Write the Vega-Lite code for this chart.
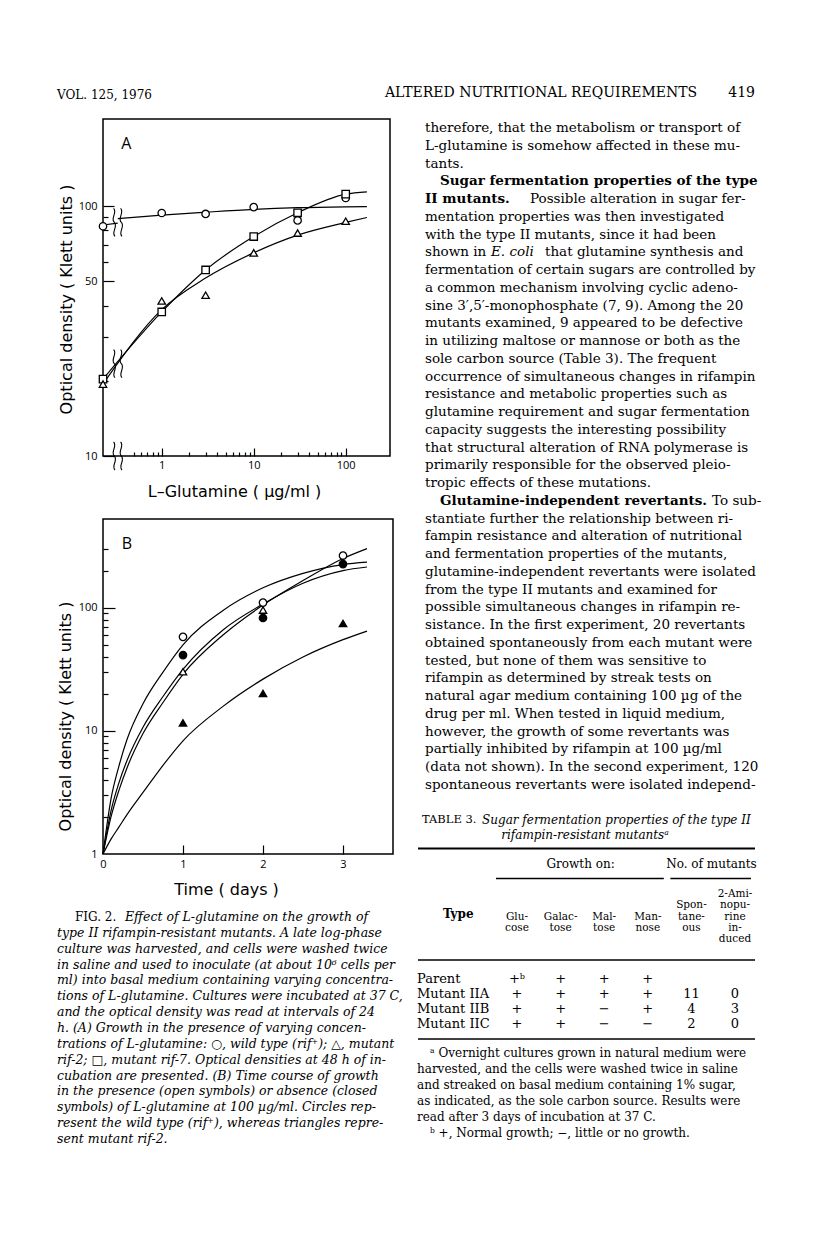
{
  "$schema": "https://vega.github.io/schema/vega-lite/v6.json",
  "background": "white",
  "padding": {"left": 56, "top": 86, "right": 10, "bottom": 10},
  "autosize": {"type": "pad"},
  "bounds": "flush",
  "columns": 2,
  "spacing": {"row": 63, "column": 32},
  "config": {
    "view": {"stroke": null},
    "axis": {"grid": false, "labelFont": "Open Sans", "labelFontSize": 11, "labelColor": "black", "titleFont": "DejaVu Sans", "titleFontSize": 16, "titleFontWeight": "normal", "titleColor": "black", "tickColor": "black", "tickWidth": 1.2, "domainColor": "black", "labelFlush": false, "labelOverlap": false},
    "title": {"color": "black"},
    "text": {"color": "black"}
  },
  "datasets": {
    "glutamine_points": [
      {"strain": "wild type (rif+)", "conc": 0.23, "od": 83},
      {"strain": "wild type (rif+)", "conc": 1, "od": 93.8},
      {"strain": "wild type (rif+)", "conc": 3, "od": 93},
      {"strain": "wild type (rif+)", "conc": 10, "od": 99},
      {"strain": "wild type (rif+)", "conc": 30, "od": 87.6},
      {"strain": "wild type (rif+)", "conc": 100, "od": 107.7},
      {"strain": "mutant rif-7", "conc": 0.23, "od": 20.3},
      {"strain": "mutant rif-7", "conc": 1, "od": 37.7},
      {"strain": "mutant rif-7", "conc": 3, "od": 55.5},
      {"strain": "mutant rif-7", "conc": 10, "od": 75.5},
      {"strain": "mutant rif-7", "conc": 30, "od": 94},
      {"strain": "mutant rif-7", "conc": 100, "od": 111.6},
      {"strain": "mutant rif-2", "conc": 0.23, "od": 19.4},
      {"strain": "mutant rif-2", "conc": 1, "od": 41.7},
      {"strain": "mutant rif-2", "conc": 3, "od": 44},
      {"strain": "mutant rif-2", "conc": 10, "od": 65},
      {"strain": "mutant rif-2", "conc": 30, "od": 78},
      {"strain": "mutant rif-2", "conc": 100, "od": 87}
    ],
    "glutamine_curves": [
      {"curve": "wild type, before break", "conc": 0.23, "od": 84},
      {"curve": "wild type, before break", "conc": 0.333, "od": 85.5},
      {"curve": "wild type", "conc": 0.333, "od": 89},
      {"curve": "wild type", "conc": 1, "od": 92},
      {"curve": "wild type", "conc": 3, "od": 94.5},
      {"curve": "wild type", "conc": 10, "od": 97},
      {"curve": "wild type", "conc": 30, "od": 98.5},
      {"curve": "wild type", "conc": 100, "od": 99.3},
      {"curve": "wild type", "conc": 170, "od": 99.5},
      {"curve": "mutant rif-7", "conc": 0.23, "od": 20.3},
      {"curve": "mutant rif-7", "conc": 1, "od": 37.7},
      {"curve": "mutant rif-7", "conc": 3, "od": 55.5},
      {"curve": "mutant rif-7", "conc": 10, "od": 75.5},
      {"curve": "mutant rif-7", "conc": 30, "od": 94},
      {"curve": "mutant rif-7", "conc": 100, "od": 111.6},
      {"curve": "mutant rif-7", "conc": 170, "od": 114},
      {"curve": "mutant rif-2", "conc": 0.23, "od": 19.4},
      {"curve": "mutant rif-2", "conc": 1, "od": 38.5},
      {"curve": "mutant rif-2", "conc": 3, "od": 51.5},
      {"curve": "mutant rif-2", "conc": 10, "od": 65},
      {"curve": "mutant rif-2", "conc": 30, "od": 76.5},
      {"curve": "mutant rif-2", "conc": 100, "od": 86},
      {"curve": "mutant rif-2", "conc": 170, "od": 90}
    ],
    "glutamine_breaks": [
      {"where": "wild type curve", "conc": 0.333, "od": 86},
      {"where": "mutant curves", "conc": 0.333, "od": 23.4},
      {"where": "x axis", "conc": 0.333, "od": 10}
    ],
    "time_points": [
      {"strain": "wild type (rif+)", "glutamine": "present", "t": 1, "od": 58},
      {"strain": "wild type (rif+)", "glutamine": "present", "t": 2, "od": 110},
      {"strain": "wild type (rif+)", "glutamine": "present", "t": 3, "od": 265},
      {"strain": "wild type (rif+)", "glutamine": "absent", "t": 1, "od": 41.2},
      {"strain": "wild type (rif+)", "glutamine": "absent", "t": 2, "od": 82.5},
      {"strain": "wild type (rif+)", "glutamine": "absent", "t": 3, "od": 226},
      {"strain": "mutant rif-2", "glutamine": "present", "t": 1, "od": 30.2},
      {"strain": "mutant rif-2", "glutamine": "present", "t": 2, "od": 95.7},
      {"strain": "mutant rif-2", "glutamine": "absent", "t": 1, "od": 11.6},
      {"strain": "mutant rif-2", "glutamine": "absent", "t": 2, "od": 20.1},
      {"strain": "mutant rif-2", "glutamine": "absent", "t": 3, "od": 74.5}
    ],
    "time_curves": [
      {"curve": "C1", "t": 0, "od": 1}, {"curve": "C1", "t": 0.1, "od": 2.8}, {"curve": "C1", "t": 0.2, "od": 5.2}, {"curve": "C1", "t": 0.3, "od": 8.5}, {"curve": "C1", "t": 0.5, "od": 16.6}, {"curve": "C1", "t": 0.75, "od": 30}, {"curve": "C1", "t": 1, "od": 50}, {"curve": "C1", "t": 1.5, "od": 95}, {"curve": "C1", "t": 2, "od": 145}, {"curve": "C1", "t": 2.5, "od": 190}, {"curve": "C1", "t": 3, "od": 224}, {"curve": "C1", "t": 3.3, "od": 234},
      {"curve": "C2", "t": 0, "od": 1}, {"curve": "C2", "t": 0.1, "od": 2.0}, {"curve": "C2", "t": 0.2, "od": 3.3}, {"curve": "C2", "t": 0.3, "od": 5.0}, {"curve": "C2", "t": 0.5, "od": 9.5}, {"curve": "C2", "t": 0.75, "od": 17}, {"curve": "C2", "t": 1, "od": 28.8}, {"curve": "C2", "t": 1.5, "od": 60}, {"curve": "C2", "t": 2, "od": 105}, {"curve": "C2", "t": 2.5, "od": 166}, {"curve": "C2", "t": 3, "od": 251}, {"curve": "C2", "t": 3.3, "od": 302},
      {"curve": "C3", "t": 0, "od": 1}, {"curve": "C3", "t": 0.1, "od": 2.24}, {"curve": "C3", "t": 0.2, "od": 3.8}, {"curve": "C3", "t": 0.3, "od": 5.75}, {"curve": "C3", "t": 0.5, "od": 10.7}, {"curve": "C3", "t": 0.75, "od": 19}, {"curve": "C3", "t": 1, "od": 31.6}, {"curve": "C3", "t": 1.5, "od": 66}, {"curve": "C3", "t": 2, "od": 107}, {"curve": "C3", "t": 2.5, "od": 158}, {"curve": "C3", "t": 3, "od": 200}, {"curve": "C3", "t": 3.3, "od": 214},
      {"curve": "C4", "t": 0, "od": 1}, {"curve": "C4", "t": 0.1, "od": 1.32}, {"curve": "C4", "t": 0.2, "od": 1.66}, {"curve": "C4", "t": 0.3, "od": 2.09}, {"curve": "C4", "t": 0.5, "od": 3.16}, {"curve": "C4", "t": 0.75, "od": 5.25}, {"curve": "C4", "t": 1, "od": 8.3}, {"curve": "C4", "t": 1.5, "od": 15.8}, {"curve": "C4", "t": 2, "od": 26.3}, {"curve": "C4", "t": 2.5, "od": 39.8}, {"curve": "C4", "t": 3, "od": 55}, {"curve": "C4", "t": 3.3, "od": 64.6}
    ],
    "caption": [
      {"line": 1, "part": "fig", "text": "FIG. 2."},
      {"line": 1, "part": "first", "text": "Effect of L-glutamine on the growth of"},
      {"line": 2, "part": "body", "text": "type II rifampin-resistant mutants. A late log-phase"},
      {"line": 3, "part": "body", "text": "culture was harvested, and cells were washed twice"},
      {"line": 4, "part": "body", "text": "in saline and used to inoculate (at about 10⁶ cells per"},
      {"line": 5, "part": "body", "text": "ml) into basal medium containing varying concentra-"},
      {"line": 6, "part": "body", "text": "tions of L-glutamine. Cultures were incubated at 37 C,"},
      {"line": 7, "part": "body", "text": "and the optical density was read at intervals of 24"},
      {"line": 8, "part": "body", "text": "h. (A) Growth in the presence of varying concen-"},
      {"line": 9, "part": "body", "text": "trations of L-glutamine: ○, wild type (rif⁺); △, mutant"},
      {"line": 10, "part": "body", "text": "rif-2; □, mutant rif-7. Optical densities at 48 h of in-"},
      {"line": 11, "part": "body", "text": "cubation are presented. (B) Time course of growth"},
      {"line": 12, "part": "body", "text": "in the presence (open symbols) or absence (closed"},
      {"line": 13, "part": "body", "text": "symbols) of L-glutamine at 100 µg/ml. Circles rep-"},
      {"line": 14, "part": "body", "text": "resent the wild type (rif⁺), whereas triangles repre-"},
      {"line": 15, "part": "body", "text": "sent mutant rif-2."}
    ],
    "body": [
      {"line": 1, "style": "r", "text": "therefore, that the metabolism or transport of"},
      {"line": 2, "style": "r", "text": "L-glutamine is somehow affected in these mu-"},
      {"line": 3, "style": "r", "text": "tants."},
      {"line": 4, "style": "bi", "text": "Sugar fermentation properties of the type"},
      {"line": 5, "style": "b", "text": "II mutants."},
      {"line": 5, "style": "r5", "text": "Possible alteration in sugar fer-"},
      {"line": 6, "style": "r", "text": "mentation properties was then investigated"},
      {"line": 7, "style": "r", "text": "with the type II mutants, since it had been"},
      {"line": 8, "style": "r", "text": "shown in"},
      {"line": 8, "style": "i8", "text": "E. coli"},
      {"line": 8, "style": "r8", "text": "that glutamine synthesis and"},
      {"line": 9, "style": "r", "text": "fermentation of certain sugars are controlled by"},
      {"line": 10, "style": "r", "text": "a common mechanism involving cyclic adeno-"},
      {"line": 11, "style": "r", "text": "sine 3′,5′-monophosphate (7, 9). Among the 20"},
      {"line": 12, "style": "r", "text": "mutants examined, 9 appeared to be defective"},
      {"line": 13, "style": "r", "text": "in utilizing maltose or mannose or both as the"},
      {"line": 14, "style": "r", "text": "sole carbon source (Table 3). The frequent"},
      {"line": 15, "style": "r", "text": "occurrence of simultaneous changes in rifampin"},
      {"line": 16, "style": "r", "text": "resistance and metabolic properties such as"},
      {"line": 17, "style": "r", "text": "glutamine requirement and sugar fermentation"},
      {"line": 18, "style": "r", "text": "capacity suggests the interesting possibility"},
      {"line": 19, "style": "r", "text": "that structural alteration of RNA polymerase is"},
      {"line": 20, "style": "r", "text": "primarily responsible for the observed pleio-"},
      {"line": 21, "style": "r", "text": "tropic effects of these mutations."},
      {"line": 22, "style": "bi", "text": "Glutamine-independent revertants."},
      {"line": 22, "style": "r22", "text": "To sub-"},
      {"line": 23, "style": "r", "text": "stantiate further the relationship between ri-"},
      {"line": 24, "style": "r", "text": "fampin resistance and alteration of nutritional"},
      {"line": 25, "style": "r", "text": "and fermentation properties of the mutants,"},
      {"line": 26, "style": "r", "text": "glutamine-independent revertants were isolated"},
      {"line": 27, "style": "r", "text": "from the type II mutants and examined for"},
      {"line": 28, "style": "r", "text": "possible simultaneous changes in rifampin re-"},
      {"line": 29, "style": "r", "text": "sistance. In the first experiment, 20 revertants"},
      {"line": 30, "style": "r", "text": "obtained spontaneously from each mutant were"},
      {"line": 31, "style": "r", "text": "tested, but none of them was sensitive to"},
      {"line": 32, "style": "r", "text": "rifampin as determined by streak tests on"},
      {"line": 33, "style": "r", "text": "natural agar medium containing 100 µg of the"},
      {"line": 34, "style": "r", "text": "drug per ml. When tested in liquid medium,"},
      {"line": 35, "style": "r", "text": "however, the growth of some revertants was"},
      {"line": 36, "style": "r", "text": "partially inhibited by rifampin at 100 µg/ml"},
      {"line": 37, "style": "r", "text": "(data not shown). In the second experiment, 120"},
      {"line": 38, "style": "r", "text": "spontaneous revertants were isolated independ-"}
    ],
    "table_title": [
      {"line": 1, "part": "label", "text": "TABLE 3."},
      {"line": 1, "part": "it1", "text": "Sugar fermentation properties of the type II"},
      {"line": 2, "part": "it2", "text": "rifampin-resistant mutantsᵃ"}
    ],
    "table_groups": [
      {"col": "Galactose", "text": "Growth on:"},
      {"col": "Spontaneous", "text": "No. of mutants"}
    ],
    "table_group_rules": [
      {"from": "Glucose", "to": "Mannose"},
      {"from": "Spontaneous", "to": "2-Aminopurine induced"}
    ],
    "table_heads": [
      {"col": "Glucose", "hline": 3, "text": "Glu-"}, {"col": "Glucose", "hline": 4, "text": "cose"},
      {"col": "Galactose", "hline": 3, "text": "Galac-"}, {"col": "Galactose", "hline": 4, "text": "tose"},
      {"col": "Maltose", "hline": 3, "text": "Mal-"}, {"col": "Maltose", "hline": 4, "text": "tose"},
      {"col": "Mannose", "hline": 3, "text": "Man-"}, {"col": "Mannose", "hline": 4, "text": "nose"},
      {"col": "Spontaneous", "hline": 2, "text": "Spon-"}, {"col": "Spontaneous", "hline": 3, "text": "tane-"}, {"col": "Spontaneous", "hline": 4, "text": "ous"},
      {"col": "2-Aminopurine induced", "hline": 1, "text": "2-Ami-"}, {"col": "2-Aminopurine induced", "hline": 2, "text": "nopu-"}, {"col": "2-Aminopurine induced", "hline": 3, "text": "rine"}, {"col": "2-Aminopurine induced", "hline": 4, "text": "in-"}, {"col": "2-Aminopurine induced", "hline": 5, "text": "duced"}
    ],
    "table_types": [
      {"type": "Parent"}, {"type": "Mutant IIA"}, {"type": "Mutant IIB"}, {"type": "Mutant IIC"}
    ],
    "table_cells": [
      {"type": "Parent", "col": "Glucose", "value": "+ᵇ"},
      {"type": "Parent", "col": "Galactose", "value": "+"},
      {"type": "Parent", "col": "Maltose", "value": "+"},
      {"type": "Parent", "col": "Mannose", "value": "+"},
      {"type": "Mutant IIA", "col": "Glucose", "value": "+"},
      {"type": "Mutant IIA", "col": "Galactose", "value": "+"},
      {"type": "Mutant IIA", "col": "Maltose", "value": "+"},
      {"type": "Mutant IIA", "col": "Mannose", "value": "+"},
      {"type": "Mutant IIA", "col": "Spontaneous", "value": "11"},
      {"type": "Mutant IIA", "col": "2-Aminopurine induced", "value": "0"},
      {"type": "Mutant IIB", "col": "Glucose", "value": "+"},
      {"type": "Mutant IIB", "col": "Galactose", "value": "+"},
      {"type": "Mutant IIB", "col": "Maltose", "value": "−"},
      {"type": "Mutant IIB", "col": "Mannose", "value": "+"},
      {"type": "Mutant IIB", "col": "Spontaneous", "value": "4"},
      {"type": "Mutant IIB", "col": "2-Aminopurine induced", "value": "3"},
      {"type": "Mutant IIC", "col": "Glucose", "value": "+"},
      {"type": "Mutant IIC", "col": "Galactose", "value": "+"},
      {"type": "Mutant IIC", "col": "Maltose", "value": "−"},
      {"type": "Mutant IIC", "col": "Mannose", "value": "−"},
      {"type": "Mutant IIC", "col": "Spontaneous", "value": "2"},
      {"type": "Mutant IIC", "col": "2-Aminopurine induced", "value": "0"}
    ],
    "table_notes": [
      {"nline": 1, "indent": "yes", "text": "ᵃ Overnight cultures grown in natural medium were"},
      {"nline": 2, "indent": "no", "text": "harvested, and the cells were washed twice in saline"},
      {"nline": 3, "indent": "no", "text": "and streaked on basal medium containing 1% sugar,"},
      {"nline": 4, "indent": "no", "text": "as indicated, as the sole carbon source. Results were"},
      {"nline": 5, "indent": "no", "text": "read after 3 days of incubation at 37 C."},
      {"nline": 6, "indent": "yes", "text": "ᵇ +, Normal growth; −, little or no growth."}
    ]
  },
  "concat": [
    {
      "width": 287,
      "height": 337,
      "view": {"stroke": "black", "strokeWidth": 1.5},
      "title": {"text": "VOL. 125, 1976", "anchor": "start", "frame": "group", "dx": -46, "offset": 8, "baseline": "alphabetic", "font": "DejaVu Serif", "fontSize": 12, "fontWeight": "normal"},
      "layer": [
        {
          "data": {"name": "glutamine_curves"},
          "mark": {"type": "line", "interpolate": "monotone", "color": "black", "strokeWidth": 1.2},
          "encoding": {
            "x": {"field": "conc", "type": "quantitative", "scale": {"type": "log", "domain": [0.23, 303], "nice": false}, "axis": {"orient": "bottom", "values": [1, 10, 100], "format": "d", "ticks": false, "domain": false, "labelPadding": 3, "title": "L–Glutamine ( µg/ml )", "titleX": 131, "titleY": 27, "titleBaseline": "top", "titleAnchor": "middle"}},
            "y": {"field": "od", "type": "quantitative", "scale": {"type": "log", "domain": [10, 223], "nice": false}, "axis": {"orient": "left", "values": [10, 50, 100], "format": "d", "ticks": false, "domain": false, "labelPadding": 6, "title": "Optical density ( Klett units )", "titleX": -29, "titleY": 180, "titleAngle": 270, "titleBaseline": "bottom", "titleAnchor": "middle"}},
            "detail": {"field": "curve", "type": "nominal"}
          }
        },
        {
          "data": {"name": "glutamine_breaks"},
          "mark": {"type": "point", "shape": "M-0.3,-1 C0,-0.7 -0.55,-0.3 -0.25,0 C0.05,0.3 -0.5,0.7 -0.2,1 M0.2,-1 C0.5,-0.7 -0.05,-0.3 0.25,0 C0.55,0.3 0,0.7 0.3,1", "size": 784, "filled": false, "stroke": "black", "strokeWidth": 1.1, "opacity": 1},
          "encoding": {
            "x": {"field": "conc", "type": "quantitative", "axis": {"orient": "bottom", "values": [1, 10, 100], "labels": false, "domain": false, "tickSize": -8, "title": null}},
            "y": {"field": "od", "type": "quantitative", "axis": {"orient": "left", "values": [10, 50, 100], "labels": false, "domain": false, "tickSize": -11, "title": null}}
          }
        },
        {
          "data": {"name": "glutamine_points"},
          "mark": {"type": "point", "filled": true, "fill": "white", "stroke": "black", "strokeWidth": 1.3, "opacity": 1, "size": 55},
          "encoding": {
            "x": {"field": "conc", "type": "quantitative", "axis": {"orient": "bottom", "values": [0.5, 0.6, 0.7, 0.8, 0.9, 2, 3, 4, 5, 6, 7, 8, 9, 20, 30, 40, 50, 60, 70, 80, 90], "labels": false, "domain": false, "tickSize": -4, "title": null}},
            "y": {"field": "od", "type": "quantitative", "axis": {"orient": "left", "values": [20, 30, 40, 60, 70, 80, 90], "labels": false, "domain": false, "tickSize": -5, "title": null}},
            "shape": {"field": "strain", "type": "nominal", "scale": {"domain": ["wild type (rif+)", "mutant rif-2", "mutant rif-7"], "range": ["circle", "triangle-up", "square"]}, "legend": null}
          }
        },
        {
          "data": {"values": [{"panel": "A"}]},
          "mark": {"type": "text", "font": "Open Sans", "fontSize": 16, "align": "center", "baseline": "middle"},
          "encoding": {
            "x": {"datum": 0.413, "type": "quantitative", "axis": null},
            "y": {"datum": 176.7, "type": "quantitative", "axis": null},
            "text": {"field": "panel"}
          }
        }
      ],
      "resolve": {"axis": {"x": "independent", "y": "independent"}}
    },
    {
      "width": 330,
      "height": 337,
      "title": {"text": "ALTERED NUTRITIONAL REQUIREMENTS\u00a0\u00a0\u00a0\u00a0\u00a0\u00a0\u00a0419", "anchor": "end", "frame": "group", "offset": 8, "baseline": "alphabetic", "font": "DejaVu Serif", "fontSize": 14, "fontWeight": "normal"},
      "data": {"name": "body"},
      "encoding": {
        "y": {"field": "line", "type": "quantitative", "scale": {"domain": [1, 38], "range": [9, 666]}, "axis": null},
        "text": {"field": "text"}
      },
      "layer": [
        {"transform": [{"filter": "datum.style === 'r'"}], "mark": {"type": "text", "align": "left", "baseline": "middle", "font": "DejaVu Serif", "fontSize": 13.5, "x": 0}},
        {"transform": [{"filter": "datum.style === 'bi'"}], "mark": {"type": "text", "align": "left", "baseline": "middle", "font": "DejaVu Serif", "fontSize": 13.5, "fontWeight": "bold", "x": 0, "dx": 15}},
        {"transform": [{"filter": "datum.style === 'b'"}], "mark": {"type": "text", "align": "left", "baseline": "middle", "font": "DejaVu Serif", "fontSize": 13.5, "fontWeight": "bold", "x": 0}},
        {"transform": [{"filter": "datum.style === 'r5'"}], "mark": {"type": "text", "align": "left", "baseline": "middle", "font": "DejaVu Serif", "fontSize": 13.5, "x": 0, "dx": 105}},
        {"transform": [{"filter": "datum.style === 'i8'"}], "mark": {"type": "text", "align": "left", "baseline": "middle", "font": "DejaVu Serif", "fontSize": 13.5, "fontStyle": "italic", "x": 0, "dx": 66}},
        {"transform": [{"filter": "datum.style === 'r8'"}], "mark": {"type": "text", "align": "left", "baseline": "middle", "font": "DejaVu Serif", "fontSize": 13.5, "x": 0, "dx": 120}},
        {"transform": [{"filter": "datum.style === 'r22'"}], "mark": {"type": "text", "align": "left", "baseline": "middle", "font": "DejaVu Serif", "fontSize": 13.5, "x": 0, "dx": 287}}
      ]
    },
    {
      "width": 290,
      "height": 335,
      "view": {"stroke": "black", "strokeWidth": 1.5},
      "layer": [
        {
          "data": {"name": "time_curves"},
          "mark": {"type": "line", "interpolate": "monotone", "color": "black", "strokeWidth": 1.2},
          "encoding": {
            "x": {"field": "t", "type": "quantitative", "scale": {"domain": [0, 3.625], "nice": false}, "axis": {"orient": "bottom", "values": [0, 1, 2, 3], "format": "d", "ticks": false, "domain": false, "labelPadding": 4, "title": "Time ( days )", "titleX": 123, "titleY": 27, "titleBaseline": "top", "titleAnchor": "middle"}},
            "y": {"field": "od", "type": "quantitative", "scale": {"type": "log", "domain": [1, 525], "nice": false}, "axis": {"orient": "left", "values": [1, 10, 100], "format": "d", "ticks": false, "domain": false, "labelPadding": 6, "title": "Optical density ( Klett units )", "titleX": -30, "titleY": 197, "titleAngle": 270, "titleBaseline": "bottom", "titleAnchor": "middle"}},
            "detail": {"field": "curve", "type": "nominal"}
          }
        },
        {
          "data": {"name": "time_points"},
          "mark": {"type": "point", "filled": true, "stroke": "black", "strokeWidth": 1.3, "opacity": 1, "size": 55},
          "encoding": {
            "x": {"field": "t", "type": "quantitative", "axis": {"orient": "bottom", "values": [1, 2, 3], "labels": false, "domain": false, "tickSize": -9, "title": null}},
            "y": {"field": "od", "type": "quantitative", "axis": {"orient": "left", "values": [10, 100], "labels": false, "domain": false, "tickSize": -12, "title": null}},
            "shape": {"field": "strain", "type": "nominal", "scale": {"domain": ["wild type (rif+)", "mutant rif-2"], "range": ["circle", "triangle-up"]}, "legend": null},
            "fill": {"field": "glutamine", "type": "nominal", "scale": {"domain": ["present", "absent"], "range": ["white", "black"]}, "legend": null}
          }
        },
        {
          "data": {"values": [{"panel": "B"}]},
          "mark": {"type": "text", "font": "Open Sans", "fontSize": 16, "align": "center", "baseline": "middle"},
          "encoding": {
            "x": {"datum": 0.3, "type": "quantitative", "axis": null},
            "y": {"datum": 331, "type": "quantitative", "axis": {"orient": "left", "values": [2, 3, 4, 5, 6, 7, 8, 9, 20, 30, 40, 50, 60, 70, 80, 90, 200, 300], "labels": false, "domain": false, "tickSize": -5, "title": null}},
            "text": {"field": "panel"}
          }
        }
      ],
      "resolve": {"axis": {"x": "independent", "y": "independent"}}
    },
    {
      "width": 330,
      "height": 335,
      "layer": [
        {
          "data": {"name": "table_title"},
          "transform": [{"filter": "datum.part === 'label'"}],
          "mark": {"type": "text", "align": "left", "baseline": "middle", "font": "DejaVu Serif", "fontSize": 11.5, "x": 0, "dx": -3},
          "encoding": {"y": {"field": "line", "type": "quantitative", "scale": {"domain": [1, 2], "range": [301, 316]}, "axis": null}, "text": {"field": "text"}}
        },
        {
          "data": {"name": "table_title"},
          "transform": [{"filter": "datum.part === 'it1'"}],
          "mark": {"type": "text", "align": "left", "baseline": "middle", "font": "DejaVu Serif", "fontSize": 12, "fontStyle": "italic", "x": 0, "dx": 57},
          "encoding": {"y": {"field": "line", "type": "quantitative", "scale": {"domain": [1, 2], "range": [301, 316]}, "axis": null}, "text": {"field": "text"}}
        },
        {
          "data": {"name": "table_title"},
          "transform": [{"filter": "datum.part === 'it2'"}],
          "mark": {"type": "text", "align": "center", "baseline": "middle", "font": "DejaVu Serif", "fontSize": 12, "fontStyle": "italic", "x": 0, "dx": 160},
          "encoding": {"y": {"field": "line", "type": "quantitative", "scale": {"domain": [1, 2], "range": [301, 316]}, "axis": null}, "text": {"field": "text"}}
        },
        {
          "data": {"values": [{"rule": "top"}]},
          "mark": {"type": "rule", "color": "black", "strokeWidth": 2},
          "encoding": {"x": {"value": -7}, "x2": {"value": 330}, "y": {"value": 329.5}}
        },
        {
          "data": {"name": "table_groups"},
          "mark": {"type": "text", "align": "center", "baseline": "middle", "font": "DejaVu Serif", "fontSize": 12, "dx": 20},
          "encoding": {
            "x": {"field": "col", "type": "nominal", "scale": {"type": "point", "padding": 0, "domain": ["Glucose", "Galactose", "Maltose", "Mannose", "Spontaneous", "2-Aminopurine induced"], "range": [92, 310]}, "axis": null},
            "y": {"value": 345},
            "text": {"field": "text"}
          }
        },
        {
          "data": {"name": "table_group_rules"},
          "mark": {"type": "rule", "color": "black", "strokeWidth": 1.5, "xOffset": -21, "x2Offset": 16},
          "encoding": {
            "x": {"field": "from", "type": "nominal"},
            "x2": {"field": "to"},
            "y": {"value": 359.5}
          }
        },
        {
          "data": {"name": "table_heads"},
          "mark": {"type": "text", "align": "center", "baseline": "middle", "font": "DejaVu Serif", "fontSize": 10.5},
          "encoding": {
            "x": {"field": "col", "type": "nominal"},
            "y": {"field": "hline", "type": "quantitative", "scale": {"domain": [1, 5], "range": [375, 420]}, "axis": null},
            "text": {"field": "text"}
          }
        },
        {
          "data": {"values": [{"label": "Type"}]},
          "mark": {"type": "text", "align": "left", "baseline": "middle", "font": "DejaVu Serif", "fontSize": 12, "fontWeight": "bold", "x": 0, "dx": 18, "y": 395},
          "encoding": {"text": {"field": "label"}}
        },
        {
          "data": {"values": [{"rule": "head bottom"}]},
          "mark": {"type": "rule", "color": "black", "strokeWidth": 1.5},
          "encoding": {"x": {"value": -7}, "x2": {"value": 330}, "y": {"value": 441}}
        },
        {
          "data": {"name": "table_types"},
          "mark": {"type": "text", "align": "left", "baseline": "middle", "font": "DejaVu Serif", "fontSize": 13, "x": 0, "dx": -8},
          "encoding": {
            "y": {"field": "type", "type": "nominal", "scale": {"type": "point", "padding": 0, "domain": ["Parent", "Mutant IIA", "Mutant IIB", "Mutant IIC"], "range": [460, 505]}, "axis": null},
            "text": {"field": "type"}
          }
        },
        {
          "data": {"name": "table_cells"},
          "mark": {"type": "text", "align": "center", "baseline": "middle", "font": "DejaVu Serif", "fontSize": 13},
          "encoding": {
            "x": {"field": "col", "type": "nominal"},
            "y": {"field": "type", "type": "nominal", "scale": {"type": "point", "padding": 0, "domain": ["Parent", "Mutant IIA", "Mutant IIB", "Mutant IIC"], "range": [460, 505]}, "axis": null},
            "text": {"field": "value"}
          }
        },
        {
          "data": {"values": [{"rule": "table bottom"}]},
          "mark": {"type": "rule", "color": "black", "strokeWidth": 1.5},
          "encoding": {"x": {"value": -7}, "x2": {"value": 330}, "y": {"value": 520}}
        },
        {
          "data": {"name": "table_notes"},
          "transform": [{"filter": "datum.indent === 'yes'"}],
          "mark": {"type": "text", "align": "left", "baseline": "middle", "font": "DejaVu Serif", "fontSize": 12, "x": 0, "dx": 5},
          "encoding": {"y": {"field": "nline", "type": "quantitative", "scale": {"domain": [1, 6], "range": [534, 614]}, "axis": null}, "text": {"field": "text"}}
        },
        {
          "data": {"name": "table_notes"},
          "transform": [{"filter": "datum.indent === 'no'"}],
          "mark": {"type": "text", "align": "left", "baseline": "middle", "font": "DejaVu Serif", "fontSize": 12, "x": 0, "dx": -8},
          "encoding": {"y": {"field": "nline", "type": "quantitative", "scale": {"domain": [1, 6], "range": [534, 614]}, "axis": null}, "text": {"field": "text"}}
        }
      ],
      "resolve": {"scale": {"y": "independent"}}
    },
    {
      "width": 290,
      "height": 222,
      "data": {"name": "caption"},
      "encoding": {
        "y": {"field": "line", "type": "quantitative", "scale": {"domain": [1, 15], "range": [0, 222]}, "axis": null},
        "text": {"field": "text"}
      },
      "layer": [
        {"transform": [{"filter": "datum.part === 'fig'"}], "mark": {"type": "text", "align": "left", "baseline": "middle", "font": "DejaVu Serif", "fontSize": 12, "x": 0, "dx": -28}},
        {"transform": [{"filter": "datum.part === 'first'"}], "mark": {"type": "text", "align": "left", "baseline": "middle", "font": "DejaVu Serif", "fontSize": 12.5, "fontStyle": "italic", "x": 0, "dx": 22}},
        {"transform": [{"filter": "datum.part === 'body'"}], "mark": {"type": "text", "align": "left", "baseline": "middle", "font": "DejaVu Serif", "fontSize": 12.5, "fontStyle": "italic", "x": 0, "dx": -46}}
      ]
    }
  ]
}
